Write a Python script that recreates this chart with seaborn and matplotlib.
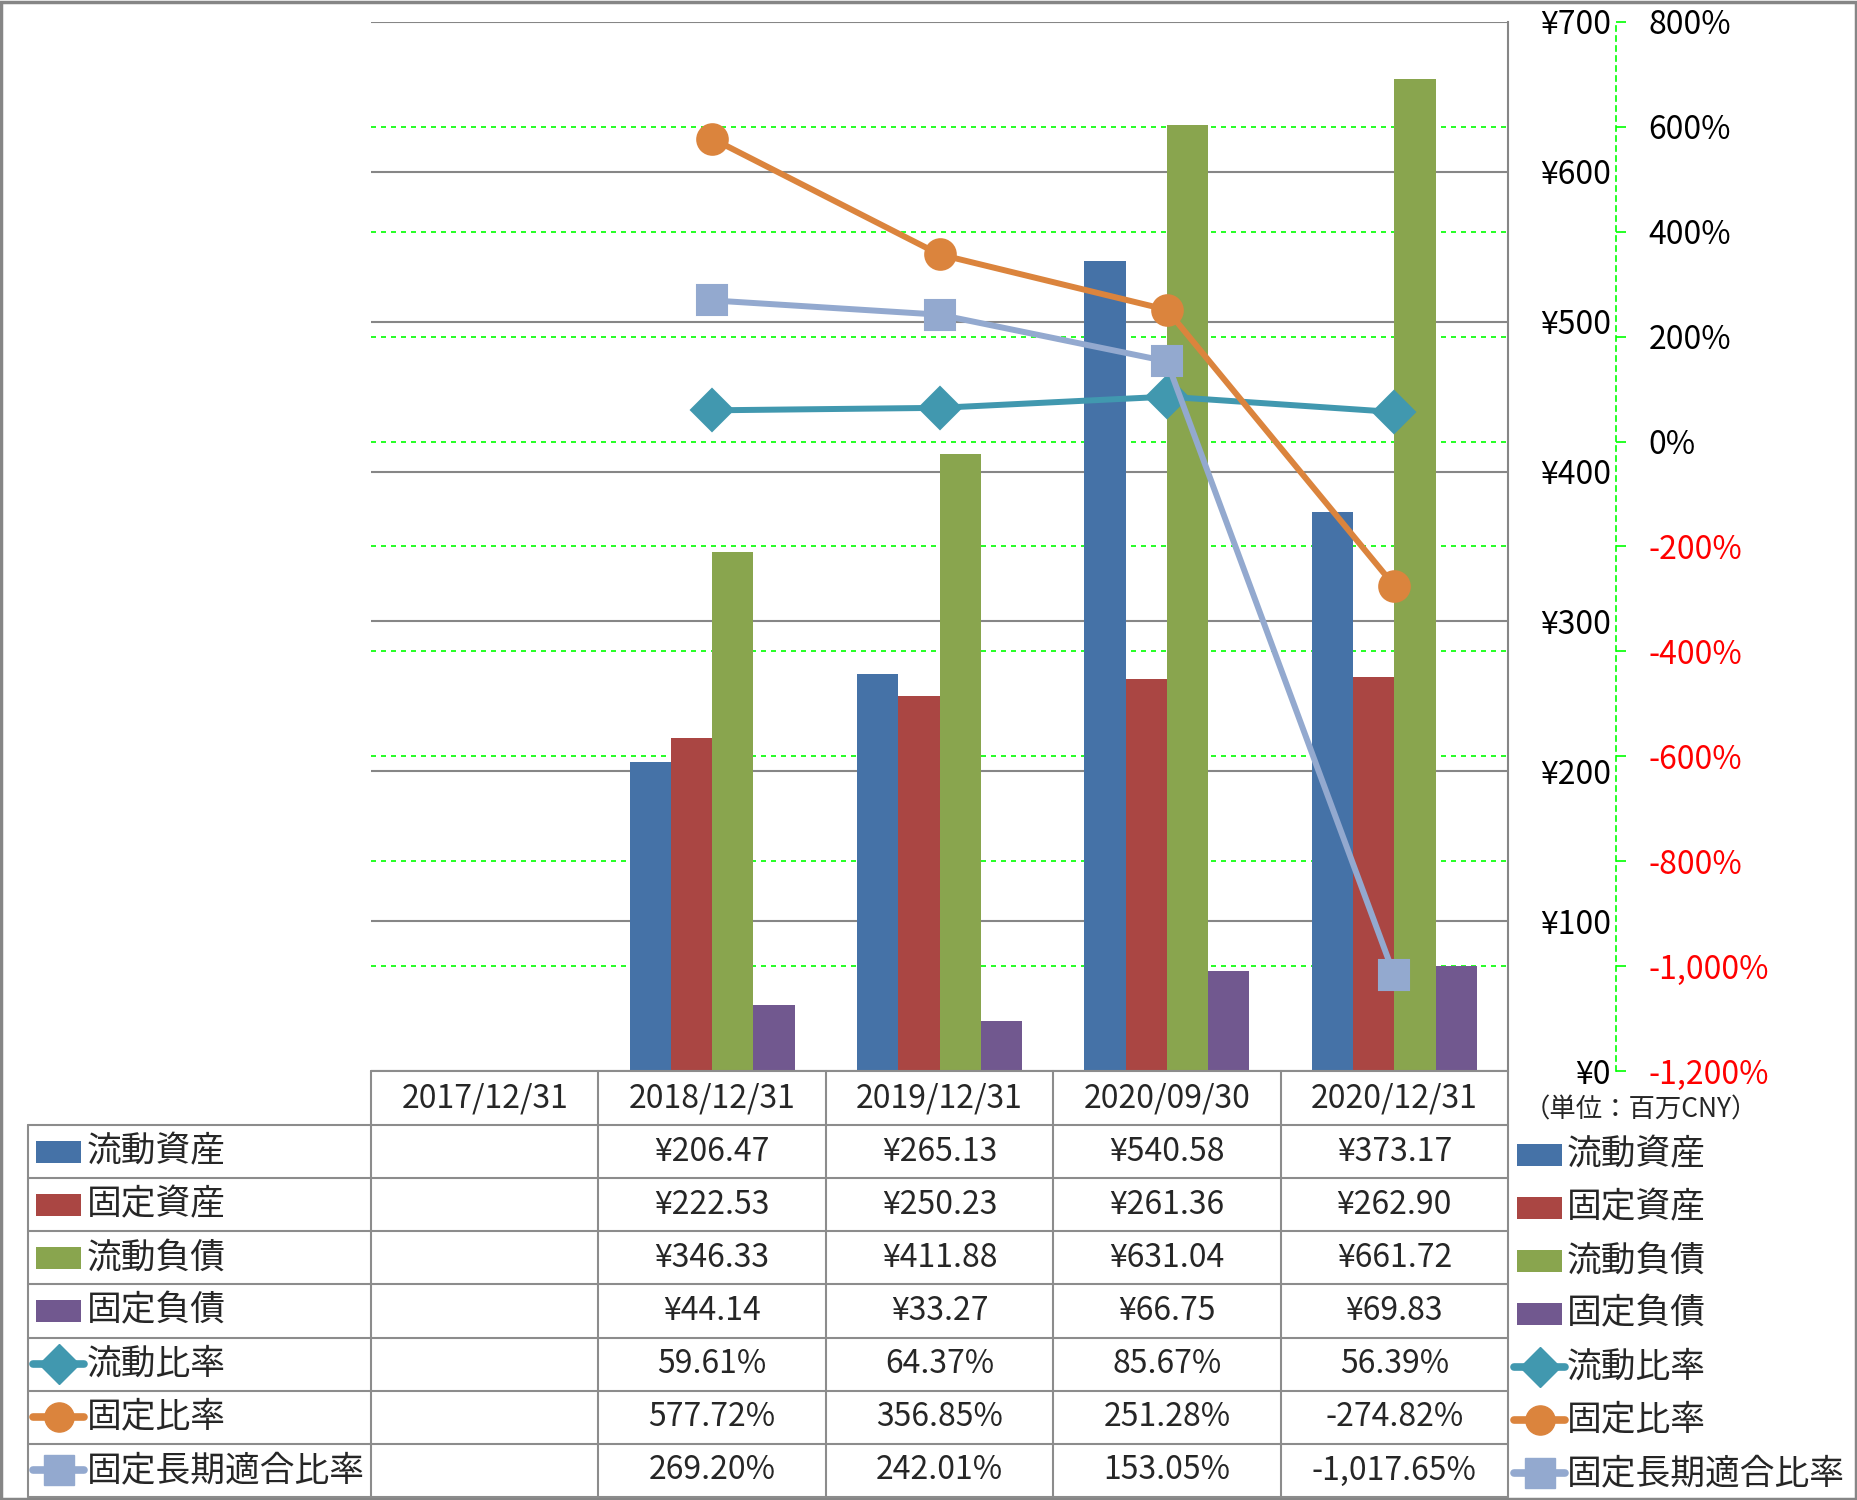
import matplotlib
matplotlib.use('Agg')
import matplotlib.pyplot as plt
import seaborn as sns
import pandas as pd
import numpy as np
from matplotlib.patches import Rectangle
from matplotlib.lines import Line2D

# ---------------- data ----------------
categories = ['2017/12/31', '2018/12/31', '2019/12/31', '2020/09/30', '2020/12/31']
current_assets = [np.nan, 206.47, 265.13, 540.58, 373.17]
fixed_assets = [np.nan, 222.53, 250.23, 261.36, 262.90]
current_liabilities = [np.nan, 346.33, 411.88, 631.04, 661.72]
fixed_liabilities = [np.nan, 44.14, 33.27, 66.75, 69.83]
current_ratio = [np.nan, 59.61, 64.37, 85.67, 56.39]
fixed_ratio = [np.nan, 577.72, 356.85, 251.28, -274.82]
fixed_lt_ratio = [np.nan, 269.20, 242.01, 153.05, -1017.65]

bar_names = ['流動資産', '固定資産', '流動負債', '固定負債']
line_names = ['流動比率', '固定比率', '固定長期適合比率']
yen_ticks = [0, 100, 200, 300, 400, 500, 600, 700]
pct_ticks = [-1200, -1000, -800, -600, -400, -200, 0, 200, 400, 600, 800]
unit_label = '（単位：百万CNY）'

bar_colors = ['#4572A7', '#AA4643', '#89A54E', '#71588F']
line_colors = ['#4198AF', '#DB843D', '#93A9CF']
line_markers = ['D', 'o', 's']
marker_sizes = [21.5, 22, 22]

# ---------------- styling ----------------
sns.set_style('white')
plt.rcParams['font.family'] = ['Noto Sans CJK JP', 'DejaVu Sans']

NUM_FS = 23
JP_FS = 25

W, H = 1857, 1500
fig = plt.figure(figsize=(W / 100, H / 100), dpi=100)
fig.patch.set_facecolor('white')


def fx(px):
    return px / W


def fy(py):
    return 1 - py / H


L, R, T, B = 371, 1508, 22, 1071
GRID = '#868686'

# axes: percent (grid behind), bars, lines on top
ax = fig.add_axes([fx(L), fy(B), fx(R) - fx(L), fy(T) - fy(B)])
ax_pct = ax.twinx()
ax_line = ax.twinx()
ax_pct.set_zorder(0)
ax.set_zorder(1)
ax_line.set_zorder(2)
ax_pct.patch.set_visible(True)
ax_pct.patch.set_facecolor('white')
ax.patch.set_visible(False)
ax_line.patch.set_visible(False)

# bars
bar_series = [current_assets, fixed_assets, current_liabilities, fixed_liabilities]
df_bar = pd.DataFrame({
    'date': np.tile(categories, len(bar_names)),
    'series': np.repeat(bar_names, len(categories)),
    'value': np.concatenate([np.array(s, dtype=float) for s in bar_series]),
}).dropna()
sns.barplot(data=df_bar, x='date', y='value', hue='series', order=categories,
            hue_order=bar_names, palette=bar_colors, saturation=1, width=0.725,
            errorbar=None, legend=False, linewidth=0, ax=ax)

# lines
line_series = [current_ratio, fixed_ratio, fixed_lt_ratio]
for name, vals, col, mk, ms in zip(line_names, line_series, line_colors, line_markers, marker_sizes):
    d = pd.DataFrame({'pos': np.arange(len(categories)), 'value': vals}).dropna()
    sns.lineplot(data=d, x='pos', y='value', ax=ax_line, color=col, marker=mk,
                 markersize=ms, markeredgecolor=col, markeredgewidth=1.5,
                 linewidth=4.3, legend=False, sort=False)

for a in (ax, ax_pct, ax_line):
    a.set_xlim(-0.5, len(categories) - 0.5)
    a.set_xlabel('')
    a.set_ylabel('')

# primary (yen) axis: labels right of plot, right-aligned
ax.set_ylim(0, 700)
ax.set_yticks(yen_ticks)
ax.set_yticklabels([f'¥{v}' for v in yen_ticks])
ax.yaxis.tick_right()
ax.tick_params(axis='y', length=0, pad=74, labelsize=NUM_FS, labelcolor='black')
plt.setp(ax.get_yticklabels(), ha='right')
ax.tick_params(axis='x', bottom=False, labelbottom=False)
ax.yaxis.grid(True, color=GRID, lw=1.5)
ax.xaxis.grid(False)
for s in ['top', 'left', 'bottom']:
    ax.spines[s].set_visible(False)
ax.spines['right'].set_color(GRID)
ax.spines['right'].set_linewidth(1.5)

# percent axis
ax_pct.set_ylim(-1200, 800)
ax_pct.set_yticks(pct_ticks)
ax_pct.set_yticklabels([f'{v:,}%' for v in pct_ticks])
ax_pct.spines['right'].set_position(('axes', (1616 - L) / (R - L)))
ax_pct.spines['right'].set_color('#00FF00')
ax_pct.spines['right'].set_linestyle((0, (3, 3)))
ax_pct.spines['right'].set_linewidth(1.2)
for s in ['top', 'left', 'bottom']:
    ax_pct.spines[s].set_visible(False)
ax_pct.tick_params(axis='y', length=7.5, color='#00FF00', width=1.2, pad=16, labelsize=NUM_FS)
for v, lab in zip(pct_ticks, ax_pct.get_yticklabels()):
    lab.set_color('#FF0000' if v < 0 else 'black')
ax_pct.yaxis.grid(True, color='#00FF00', ls=(0, (3, 3)), lw=1.2)

ax_line.set_ylim(-1200, 800)
ax_line.set_yticks([])
for s in ax_line.spines.values():
    s.set_visible(False)

# ---------------- data table ----------------
TL = 28
HEAD_TOP, HEAD_BOT = B, 1125
ROW_H = (1497 - HEAD_BOT) / 7
col_w = (R - L) / len(categories)
col_edges = [L + i * col_w for i in range(len(categories) + 1)]
row_edges = [HEAD_BOT + i * ROW_H for i in range(8)]
tcol = '#8c8c8c'


def hline(x0, x1, y):
    fig.add_artist(Line2D([fx(x0), fx(x1)], [fy(y), fy(y)], color=tcol, lw=1.5))


def vline(x, y0, y1):
    fig.add_artist(Line2D([fx(x), fx(x)], [fy(y0), fy(y1)], color=tcol, lw=1.5))


hline(L, R, HEAD_TOP)
for y in row_edges:
    hline(TL, R, y)
vline(TL, HEAD_BOT, row_edges[-1])
for x in col_edges:
    vline(x, HEAD_TOP, row_edges[-1])

for i, c in enumerate(categories):
    fig.text(fx(col_edges[i] + col_w / 2), fy((HEAD_TOP + HEAD_BOT) / 2), c,
             ha='center', va='center', fontsize=NUM_FS)

all_names = bar_names + line_names
all_vals = bar_series + line_series
for r, (name, vals) in enumerate(zip(all_names, all_vals)):
    yc = (row_edges[r] + row_edges[r + 1]) / 2
    for i, v in enumerate(vals):
        if np.isnan(v):
            continue
        txt = f'¥{v:,.2f}' if r < 4 else f'{v:,.2f}%'
        fig.text(fx(col_edges[i] + col_w / 2), fy(yc), txt, ha='center', va='center', fontsize=NUM_FS)


def legend_symbol(r, x0, x1, yc):
    if r < 4:
        fig.add_artist(Rectangle((fx(x0 + 3), fy(yc + 11)), fx(x1 - x0 - 6), 22 / H,
                                 facecolor=bar_colors[r], edgecolor='none'))
    else:
        k = r - 4
        fig.add_artist(Line2D([fx(x0), fx(x1)], [fy(yc), fy(yc)], color=line_colors[k],
                              lw=5.5, solid_capstyle='round', marker=None))
        fig.add_artist(Line2D([fx((x0 + x1) / 2)], [fy(yc)], color=line_colors[k],
                              marker=line_markers[k], markersize=marker_sizes[k] - 1,
                              markeredgecolor=line_colors[k], lw=0))


for r, name in enumerate(all_names):
    yc = (row_edges[r] + row_edges[r + 1]) / 2
    legend_symbol(r, 33, 84, yc)
    fig.text(fx(87), fy(yc), name, ha='left', va='center', fontsize=JP_FS)
    # right-side legend
    yr = yc + 3
    legend_symbol(r, 1514, 1565, yr)
    fig.text(fx(1567), fy(yr), name, ha='left', va='center', fontsize=JP_FS)

fig.text(fx(1524), fy(1110), unit_label, ha='left', va='center', fontsize=19)

# outer border
fig.add_artist(Rectangle((0.0008, 0.001), 0.9984, 0.998, transform=fig.transFigure,
                         fill=False, edgecolor='#868686', lw=2.5))

fig.savefig('out.png', dpi=100, facecolor='white')
